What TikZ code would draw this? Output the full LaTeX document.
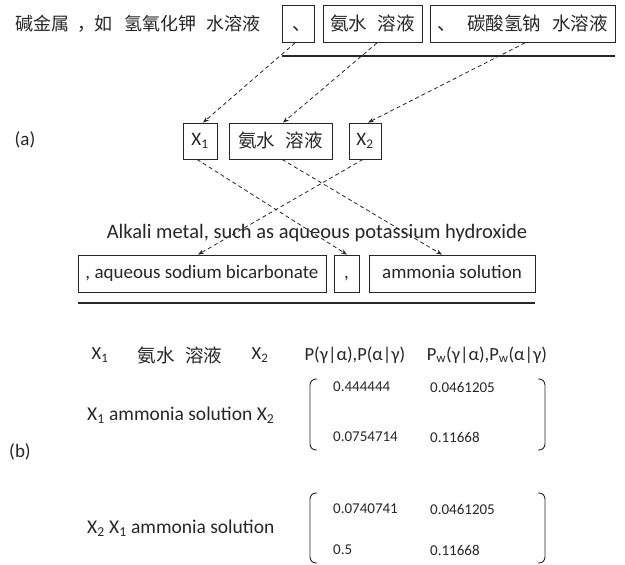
\documentclass[tikz,border=0pt]{standalone}
\usepackage{fontspec}
\setmainfont{Carlito}
\newfontfamily\cjk{Noto Sans CJK SC}
\usetikzlibrary{arrows.meta}
\colorlet{ink}{black!85}
\newcommand\zhsp{\hspace{11pt}}
\begin{document}
\begin{tikzpicture}[x=1pt,y=-1pt,
  box/.style={draw=ink, line width=0.8pt, inner sep=0pt, minimum height=37pt, text=ink},
  zh/.style={font=\cjk\fontsize{18.5}{21}\selectfont, text=ink},
  zhbox/.style={zh, text height=15pt, text depth=3pt},
  en/.style={font=\fontsize{19}{22}\selectfont, text=ink},
  enbox/.style={en, text height=13pt, text depth=4pt},
  hd/.style={font=\fontsize{18.5}{21}\selectfont, text=ink, inner sep=0pt},
  num/.style={font=\fontsize{15}{18}\selectfont, text=ink, inner sep=0pt, anchor=west},
  link/.style={draw=ink, dash pattern=on 4pt off 3pt, line width=0.8pt,
               -{Stealth[length=6pt,width=4.5pt]}},
  rule/.style={draw=ink, line width=2.5pt},
  brk/.style={draw=ink, line width=0.9pt, rounded corners=6pt}]
\useasboundingbox (0,0) rectangle (625,565);

% ---- (a) source sentence
\node[zh, font=\cjk\fontsize{18}{21}\selectfont, anchor=west, inner sep=0pt,
      text height=15pt, text depth=3pt] (src) at (15,24)
  {碱金属\hspace{8pt}，\hspace{-1pt}如\hspace{12pt}氢氧化钾\hspace{10pt}水溶液};
\node[box, zhbox, minimum width=32pt] (s1) at (298,24) {\hspace{8pt}、};
\node[box, zhbox, minimum width=99pt] (s2) at (372.5,24) {氨水\zhsp 溶液};
\node[box, zhbox, minimum width=185pt] (s3) at (522.5,24) {、\hspace{12pt}碳酸氢钠\zhsp 水溶液};
\coordinate (r1a) at (282,56);
\coordinate (r1b) at (615,56);
\draw[rule] (r1a) -- (r1b);

% ---- (a) aligned phrases
\node[en, inner sep=0pt] (la) at (25,140) {(a)};
\node[box, enbox, minimum width=34pt, minimum height=36pt] (x1) at (200,141) {X\textsubscript{1}};
\node[box, zhbox, minimum width=103pt, minimum height=36pt] (am) at (280.5,141) {氨水\zhsp 溶液};
\node[box, enbox, minimum width=32pt, minimum height=36pt] (x2) at (365,141) {X\textsubscript{2}};

\draw[link] ([xshift=-3pt]s1.south) -- ([xshift=3pt]x1.north);
\draw[link] ([xshift=4.5pt]s2.south) -- ([xshift=2.5pt]am.north);
\draw[link] ([xshift=2.5pt]s3.south) -- ([xshift=3pt]x2.north);

% ---- (a) target sentence
\node[font=\fontsize{20.5}{23}\selectfont, text=ink, inner sep=0pt] (tgt) at (317,233)
  {Alkali metal, such as aqueous potassium hydroxide};
\node[box, enbox, minimum width=248pt] (t1) at (202,273.5) {, aqueous sodium bicarbonate};
\node[box, enbox, minimum width=25pt] (t2) at (346.5,273.5) {,};
\node[box, enbox, minimum width=166pt] (t3) at (452,273.5) {ammonia solution};
\coordinate (r2a) at (78,303);
\coordinate (r2b) at (535,303);
\draw[rule] (r2a) -- (r2b);

\draw[link] ([xshift=-3pt]x1.south) -- ([xshift=0.5pt]t2.north);
\draw[link] ([xshift=1.5pt]am.south) -- ([xshift=-10pt]t3.north);
\draw[link] ([xshift=-2pt]x2.south) -- ([xshift=-4pt]t1.north);

% ---- (b) probability table
\node[hd] (hx1) at (100,355) {X\textsubscript{1}};
\node[zh, inner sep=0pt] (ham) at (180,355) {氨水\zhsp 溶液};
\node[hd] (hx2) at (260,355) {X\textsubscript{2}};
\node[hd] (hp) at (355,355) {P(γ|α),P(α|γ)};
\node[hd] (hpw) at (487,355) {P\textsubscript{w}(γ|α),P\textsubscript{w}(α|γ)};

\node[en, inner sep=0pt] (lb) at (20,452) {(b)};
\node[hd, font=\fontsize{19.5}{22}\selectfont, anchor=west] (o1) at (87,415) {X\textsubscript{1} ammonia solution X\textsubscript{2}};
\node[hd, font=\fontsize{19.5}{22}\selectfont, anchor=west] (o2) at (87,528) {X\textsubscript{2} X\textsubscript{1} ammonia solution};

% first matrix
\draw[brk] (317,379) -- (310,379) -- (310,450) -- (317,450);
\draw[brk] (538,379) -- (545,379) -- (545,450) -- (538,450);
\node[num] (m11) at (333,387) {0.444444};
\node[num] (m12) at (430,387) {0.0461205};
\node[num] (m21) at (333,437) {0.0754714};
\node[num] (m22) at (430,437) {0.11668};

% second matrix
\draw[brk] (317,493) -- (310,493) -- (310,563) -- (317,563);
\draw[brk] (538,493) -- (545,493) -- (545,563) -- (538,563);
\node[num] (n11) at (333,509) {0.0740741};
\node[num] (n12) at (430,509) {0.0461205};
\node[num] (n21) at (333,550) {0.5};
\node[num] (n22) at (430,550) {0.11668};
\end{tikzpicture}
\end{document}
